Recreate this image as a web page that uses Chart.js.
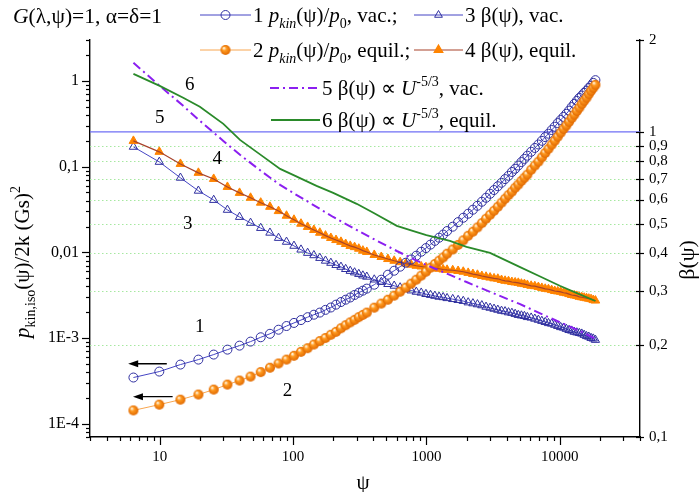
<!DOCTYPE html>
<html>
<head>
<meta charset="utf-8">
<script src="https://cdn.jsdelivr.net/npm/chart.js@4.4.1/dist/chart.umd.min.js"></script>
<style>
  html, body { margin: 0; padding: 0; background: #fff; }
  canvas { display: block; }
</style>
</head>
<body>
<canvas id="chart" width="699" height="492"></canvas>
<script>
// psi grid of the computed curves 1-4
const psi = [6.35, 9.93, 14.3, 19.5, 25.4, 32.2, 39.7, 48.0, 57.2, 67.1, 77.8, 89.3, 101.6, 114.7, 128.6, 143.3, 158.8, 175.1, 192.1, 210.0, 228.7, 248.1, 268.4, 289.4, 311.2, 333.9, 357.3,
  406.5, 458.9, 514.5, 573.3, 635.2, 700.3, 768.6, 840.1, 914.7, 992.5, 1073.5, 1157.7, 1245, 1335.5, 1429.2,
  1575.7, 1729.3, 1890.1, 2058, 2233, 2415, 2605, 2801, 3005, 3216, 3434, 3659, 3891, 4130, 4377, 4631, 4891, 5159, 5435, 5717,
  6104, 6504, 6917, 7343, 7781, 8232, 8696, 9172, 9661, 10163, 10678, 11205, 11745, 12297, 12863, 13441, 14031, 14635, 15251, 15880, 16521, 17176, 17843, 18523]

// 1 p_kin/p0, vac. (left axis)
const pkinVac = [3.46e-4, 4.06e-4, 4.90e-4, 5.60e-4, 6.41e-4, 7.32e-4, 8.15e-4, 9.08e-4, 1.02e-3, 1.12e-3, 1.25e-3, 1.38e-3, 1.50e-3, 1.62e-3, 1.75e-3, 1.87e-3, 1.98e-3, 2.13e-3, 2.27e-3, 2.45e-3, 2.63e-3, 2.80e-3, 2.97e-3, 3.18e-3, 3.38e-3, 3.57e-3, 3.77e-3,
  4.19e-3, 4.79e-3, 5.48e-3, 6.10e-3, 6.80e-3, 7.56e-3, 8.25e-3, 9.13e-3, 1.016e-2, 1.12e-2, 1.23e-2, 1.36e-2, 1.48e-2, 1.61e-2, 1.77e-2,
  1.99e-2, 2.25e-2, 2.53e-2, 2.82e-2, 3.14e-2, 3.49e-2, 3.89e-2, 4.33e-2, 4.82e-2, 5.33e-2, 5.90e-2, 6.48e-2, 7.15e-2, 7.81e-2, 8.65e-2, 9.43e-2, 0.103, 0.113, 0.123, 0.134,
  0.149, 0.165, 0.181, 0.200, 0.221, 0.242, 0.267, 0.292, 0.322, 0.350, 0.380, 0.413, 0.450, 0.495, 0.539, 0.585, 0.632, 0.675, 0.725, 0.770, 0.827, 0.878, 0.948, 1.02]

// 2 p_kin/p0, equil. (left axis)
const pkinEq = [1.43e-4, 1.67e-4, 1.91e-4, 2.19e-4, 2.50e-4, 2.86e-4, 3.19e-4, 3.55e-4, 4.0e-4, 4.5e-4, 5.05e-4, 5.6e-4, 6.2e-4, 6.9e-4, 7.6e-4, 8.4e-4, 9.2e-4, 1.0e-3, 1.09e-3, 1.18e-3, 1.30e-3, 1.41e-3, 1.52e-3, 1.63e-3, 1.75e-3, 1.86e-3, 1.98e-3,
  2.26e-3, 2.52e-3, 2.80e-3, 3.12e-3, 3.47e-3, 3.87e-3, 4.31e-3, 4.79e-3, 5.34e-3, 5.94e-3, 6.61e-3, 7.30e-3, 7.98e-3, 8.70e-3, 9.63e-3,
  1.08e-2, 1.22e-2, 1.38e-2, 1.56e-2, 1.74e-2, 1.95e-2, 2.19e-2, 2.46e-2, 2.74e-2, 3.05e-2, 3.40e-2, 3.79e-2, 4.21e-2, 4.65e-2, 5.10e-2, 5.66e-2, 6.17e-2, 6.80e-2, 7.41e-2, 8.05e-2,
  9.18e-2, 0.103, 0.114, 0.128, 0.144, 0.161, 0.180, 0.200, 0.223, 0.248, 0.275, 0.301, 0.333, 0.368, 0.403, 0.445, 0.487, 0.537, 0.585, 0.636, 0.700, 0.765, 0.830, 0.900]

// 3 beta, vac. (right axis)
const betaVac = [0.893, 0.797, 0.707, 0.641, 0.598, 0.555, 0.526, 0.503, 0.484, 0.467, 0.449, 0.436, 0.423, 0.411, 0.401, 0.394, 0.386, 0.378, 0.372, 0.366, 0.361, 0.355, 0.350, 0.346, 0.342, 0.338, 0.335,
  0.328, 0.322, 0.317, 0.313, 0.309, 0.305, 0.302, 0.299, 0.297, 0.294, 0.292, 0.290, 0.288, 0.287, 0.285,
  0.283, 0.281, 0.279, 0.276, 0.274, 0.272, 0.270, 0.267, 0.265, 0.263, 0.261, 0.259, 0.258, 0.256, 0.255, 0.253, 0.251, 0.250, 0.249, 0.247,
  0.246, 0.244, 0.242, 0.240, 0.238, 0.236, 0.235, 0.233, 0.231, 0.229, 0.228, 0.226, 0.224, 0.223, 0.221, 0.220, 0.219, 0.218, 0.216, 0.214, 0.213, 0.211, 0.210, 0.208]

// 4 beta, equil. (right axis)
const betaEq = [0.934, 0.860, 0.785, 0.734, 0.701, 0.660, 0.631, 0.608, 0.586, 0.568, 0.550, 0.531, 0.515, 0.500, 0.488, 0.477, 0.467, 0.457, 0.449, 0.442, 0.436, 0.429, 0.423, 0.419, 0.414, 0.408, 0.404,
  0.395, 0.389, 0.383, 0.378, 0.374, 0.370, 0.367, 0.364, 0.362, 0.360, 0.358, 0.357, 0.356, 0.354, 0.353,
  0.352, 0.350, 0.348, 0.345, 0.342, 0.340, 0.337, 0.335, 0.333, 0.331, 0.330, 0.327, 0.325, 0.324, 0.322, 0.321, 0.320, 0.318, 0.317, 0.315,
  0.313, 0.312, 0.310, 0.308, 0.306, 0.305, 0.303, 0.301, 0.300, 0.299, 0.297, 0.296, 0.294, 0.292, 0.291, 0.290, 0.288, 0.287, 0.286, 0.285, 0.284, 0.283, 0.281, 0.280]

// 5 and 6: beta ~ U^-5/3 (right axis)
const psiFit = [6.35, 10, 15, 20, 30, 40, 60, 80, 100, 150, 200, 300, 400, 600, 800, 1000, 1500, 2000, 3000, 5000, 7000, 10000, 14000, 18523]
const fitVac = [1.684, 1.415, 1.217, 1.087, 0.934, 0.841, 0.734, 0.670, 0.631, 0.568, 0.526, 0.477, 0.446, 0.407, 0.383, 0.366, 0.340, 0.322, 0.299, 0.273, 0.255, 0.238, 0.223, 0.210]
const fitEq = [1.549, 1.415, 1.293, 1.208, 1.062, 0.941, 0.828, 0.756, 0.723, 0.665, 0.631, 0.581, 0.543, 0.492, 0.473, 0.459, 0.439, 0.420, 0.401, 0.361, 0.337, 0.313, 0.294, 0.279]

// axes
const xTicks = [10, 100, 1000, 10000]
const xTickText = ["10", "100", "1000", "10000"]
const leftTicks = [1e-4, 1e-3, 0.01, 0.1, 1]
const leftTickText = ["1E-4", "1E-3", "0,01", "0,1", "1"]
const rightTicks = [0.1, 0.2, 0.3, 0.4, 0.5, 0.6, 0.7, 0.8, 0.9, 1, 2]
const rightTickText = ["0,1", "0,2", "0,3", "0,4", "0,5", "0,6", "0,7", "0,8", "0,9", "1", "2"]
const gridBeta = [0.2, 0.3, 0.4, 0.5, 0.6, 0.7, 0.8, 0.9]

// curve numbers and arrows, in data coordinates (psi, left axis)
const annoText = ["6", "5", "4", "3", "1", "2"]
const annoPsi = [16.8, 10, 27, 16.2, 20, 91]
const annoVal = [0.9, 0.37, 0.122, 0.0216, 1.36e-3, 2.44e-4]
const arrowFrom = [11.3, 12.5]
const arrowTo = [5.8, 6.3]
const arrowVal = [5.0e-4, 2.07e-4]

const SERIF = '"Liberation Serif", "Times New Roman", serif'
const BLUE = "#2f2f9f"
const BLUE_LINE = "#4545c4"
const ORANGE = "#ff8400"
const ORANGE_LINE = "#f8a650"
const BROWN = "#a8432b"
const PURPLE = "#8b1ff0"
const GREEN = "#2a8a2a"

// shaded orange ball used as point style
function ball(r) {
  const c = document.createElement("canvas")
  c.width = c.height = 2 * r + 2
  const g = c.getContext("2d")
  const m = r + 1
  const grd = g.createRadialGradient(m - r * 0.35, m - r * 0.4, r * 0.1, m, m, r)
  grd.addColorStop(0, "#fff3dc")
  grd.addColorStop(0.35, "#ff9a20")
  grd.addColorStop(1, "#e06800")
  g.fillStyle = grd
  g.beginPath()
  g.arc(m, m, r, 0, Math.PI * 2)
  g.fill()
  return c
}
const ballImg = ball(5)

const pts = (xs, ys) => xs.map((v, i) => ({ x: v, y: ys[i] }))

// text with italic / subscript / superscript parts
function rich(ctx, x, y, parts, size, measureOnly) {
  let w = 0
  for (const [t, st] of parts) {
    const small = st.includes("b") || st.includes("p")
    const fs = small ? Math.round(size * 0.66) : size
    ctx.font = (st.includes("i") ? "italic " : "") + fs + "px " + SERIF
    const dy = st.includes("b") ? size * 0.28 : st.includes("p") ? -size * 0.42 : 0
    if (!measureOnly) ctx.fillText(t, x + w, y + dy)
    w += ctx.measureText(t).width
  }
  return w
}

function seg(ctx, x1, y1, x2, y2) {
  ctx.beginPath()
  ctx.moveTo(x1, y1)
  ctx.lineTo(x2, y2)
  ctx.stroke()
}

const legendRows = [
  { x0: 200, x1: 251, y: 15, kind: 1, parts: [["1 ", ""], ["p", "i"], ["kin", "ib"], ["(ψ)/", ""], ["p", "i"], ["0", "b"], [", vac.;", ""]] },
  { x0: 414, x1: 463, y: 15, kind: 3, parts: [["3 β(ψ), vac.", ""]] },
  { x0: 200, x1: 251, y: 50, kind: 2, parts: [["2 ", ""], ["p", "i"], ["kin", "ib"], ["(ψ)/", ""], ["p", "i"], ["0", "b"], [", equil.;", ""]] },
  { x0: 414, x1: 463, y: 50, kind: 4, parts: [["4 β(ψ), equil.", ""]] },
  { x0: 270, x1: 320, y: 88, kind: 5, parts: [["5 β(ψ) ∝ ", ""], ["U", "i"], ["-5/3", "p"], [", vac.", ""]] },
  { x0: 271, x1: 320, y: 120, kind: 6, parts: [["6 β(ψ) ∝ ", ""], ["U", "i"], ["-5/3", "p"], [", equil.", ""]] },
]

const decor = {
  id: "decor",
  beforeDatasetsDraw(chart) {
    const { ctx, chartArea: a } = chart
    const y2 = chart.scales.y2
    ctx.save()
    ctx.strokeStyle = "#a6e8a0"
    ctx.lineWidth = 1
    ctx.setLineDash([1.5, 2.5])
    gridBeta.forEach(v => {
      const py = Math.round(y2.getPixelForValue(v)) + 0.5
      seg(ctx, a.left, py, a.right, py)
    })
    ctx.setLineDash([])
    ctx.strokeStyle = "#6f6ff5"
    ctx.lineWidth = 1.4
    const p1 = y2.getPixelForValue(1)
    seg(ctx, a.left, p1, a.right, p1)
    ctx.restore()
  },
  afterDraw(chart) {
    const { ctx, chartArea: a } = chart
    const { x, y, y2 } = chart.scales
    ctx.save()
    ctx.strokeStyle = "#000"
    ctx.fillStyle = "#000"
    ctx.lineWidth = 1.2

    // tick marks
    for (let e = 0; e <= 4; e++) {
      for (let k = 1; k <= 9; k++) {
        const v = k * Math.pow(10, e)
        if (v < 3 || v > 40000) continue
        const px = Math.round(x.getPixelForValue(v)) + 0.5
        seg(ctx, px, a.bottom, px, a.bottom + (k === 1 ? 8 : 4))
      }
    }
    for (let e = -5; e <= 0; e++) {
      for (let k = 1; k <= 9; k++) {
        const v = k * Math.pow(10, e)
        if (v < 7e-5 || v > 3.0001) continue
        const py = Math.round(y.getPixelForValue(v)) + 0.5
        seg(ctx, a.left - (k === 1 ? 8 : 4), py, a.left, py)
      }
    }
    rightTicks.forEach(v => {
      const py = Math.round(y2.getPixelForValue(v)) + 0.5
      seg(ctx, a.right - 4, py, a.right + 4, py)
    })

    // arrows
    ctx.lineWidth = 1.4
    arrowFrom.forEach((f, i) => {
      const xa = x.getPixelForValue(f)
      const xb = x.getPixelForValue(arrowTo[i])
      const py = y.getPixelForValue(arrowVal[i])
      seg(ctx, xa, py, xb + 6, py)
      ctx.beginPath()
      ctx.moveTo(xb, py)
      ctx.lineTo(xb + 10, py - 3.5)
      ctx.lineTo(xb + 10, py + 3.5)
      ctx.closePath()
      ctx.fill()
    })

    // curve numbers
    ctx.font = "19px " + SERIF
    ctx.textAlign = "center"
    ctx.textBaseline = "middle"
    annoText.forEach((t, i) => {
      ctx.fillText(t, x.getPixelForValue(annoPsi[i]), y.getPixelForValue(annoVal[i]))
    })

    // axis titles
    ctx.font = "21px " + SERIF
    ctx.fillText("ψ", (a.left + a.right) / 2 - 2, 483)
    ctx.textAlign = "left"
    ctx.textBaseline = "alphabetic"
    const lt = [["p", "i"], ["kin,iso", "b"], ["(ψ)/2k (Gs)", ""], ["2", "p"]]
    ctx.save()
    ctx.translate(29, 262)
    ctx.rotate(-Math.PI / 2)
    const lw = rich(ctx, 0, 0, lt, 21, true)
    rich(ctx, -lw / 2, 0, lt, 21)
    ctx.restore()
    ctx.save()
    ctx.translate(694, 260)
    ctx.rotate(-Math.PI / 2)
    const rw = rich(ctx, 0, 0, [["β(ψ)", ""]], 22, true)
    rich(ctx, -rw / 2, 0, [["β(ψ)", ""]], 22)
    ctx.restore()

    // header
    rich(ctx, 13, 23, [["G", "i"], ["(λ,ψ)=1, α=δ=1", ""]], 21.5)

    // legend
    legendRows.forEach(r => {
      const mid = (r.x0 + r.x1) / 2
      ctx.save()
      ctx.setLineDash([])
      if (r.kind === 1 || r.kind === 3) { ctx.strokeStyle = BLUE_LINE; ctx.lineWidth = 1 }
      if (r.kind === 2) { ctx.strokeStyle = ORANGE_LINE; ctx.lineWidth = 1 }
      if (r.kind === 4) { ctx.strokeStyle = BROWN; ctx.lineWidth = 1.2 }
      if (r.kind === 5) { ctx.strokeStyle = PURPLE; ctx.lineWidth = 2; ctx.setLineDash([9, 4, 2, 4]) }
      if (r.kind === 6) { ctx.strokeStyle = GREEN; ctx.lineWidth = 2 }
      seg(ctx, r.x0, r.y, r.x1, r.y)
      ctx.setLineDash([])
      if (r.kind === 1 || r.kind === 3) {
        ctx.strokeStyle = BLUE
        ctx.fillStyle = "rgba(0,0,0,0)"
        ctx.lineWidth = 1
        Chart.helpers.drawPoint(ctx, { pointStyle: r.kind === 1 ? "circle" : "triangle", radius: 4.5, rotation: 0, borderWidth: 1 }, mid, r.y)
      }
      if (r.kind === 2) ctx.drawImage(ballImg, mid - ballImg.width / 2, r.y - ballImg.height / 2)
      if (r.kind === 4) {
        ctx.strokeStyle = ORANGE
        ctx.fillStyle = ORANGE
        Chart.helpers.drawPoint(ctx, { pointStyle: "triangle", radius: 5, rotation: 0, borderWidth: 1 }, mid, r.y)
      }
      ctx.restore()
      ctx.fillStyle = "#000"
      rich(ctx, r.x1 + 2, r.y + 7, r.parts, 21)
    })
    ctx.restore()
  },
}

const tickFont = { family: SERIF, size: 15 }

new Chart(document.getElementById("chart").getContext("2d"), {
  type: "line",
  data: {
    datasets: [
      { label: "6", data: pts(psiFit, fitEq), yAxisID: "y2", borderColor: GREEN, borderWidth: 1.8, pointRadius: 0, order: 1 },
      { label: "5", data: pts(psiFit, fitVac), yAxisID: "y2", borderColor: PURPLE, borderWidth: 2, borderDash: [9, 4, 2, 4], pointRadius: 0, order: 2 },
      { label: "2", data: pts(psi, pkinEq), yAxisID: "y", borderColor: ORANGE_LINE, borderWidth: 1, pointStyle: ballImg, pointRadius: 5, order: 3 },
      { label: "1", data: pts(psi, pkinVac), yAxisID: "y", borderColor: BLUE_LINE, borderWidth: 1, pointStyle: "circle", pointRadius: 4.5, pointBorderColor: BLUE, pointBackgroundColor: "rgba(0,0,0,0)", pointBorderWidth: 1, order: 4 },
      { label: "4 line", data: pts(psi, betaEq), yAxisID: "y2", borderColor: BROWN, borderWidth: 1.2, pointRadius: 0, order: 5 },
      { label: "4", data: pts(psi, betaEq), yAxisID: "y2", showLine: false, pointStyle: "triangle", pointRadius: 5, pointBorderColor: ORANGE, pointBackgroundColor: ORANGE, pointBorderWidth: 1, order: 6 },
      { label: "3", data: pts(psi, betaVac), yAxisID: "y2", borderColor: BLUE_LINE, borderWidth: 1, pointStyle: "triangle", pointRadius: 4.8, pointBorderColor: BLUE, pointBackgroundColor: "rgba(0,0,0,0)", pointBorderWidth: 1, order: 7 },
    ],
  },
  options: {
    responsive: false,
    animation: false,
    devicePixelRatio: 1,
    layout: { padding: { top: 40, left: 0, right: 0, bottom: 0 } },
    elements: { line: { tension: 0, fill: false } },
    plugins: { legend: { display: false }, tooltip: { enabled: false } },
    scales: {
      x: {
        type: "logarithmic",
        min: 3,
        max: 40000,
        afterBuildTicks: s => { s.ticks = xTicks.map(v => ({ value: v })) },
        afterFit: s => { s.height = 55 },
        ticks: { callback: v => xTickText[xTicks.indexOf(v)], font: tickFont, color: "#000", padding: 11, autoSkip: false, maxRotation: 0 },
        grid: { drawOnChartArea: false, drawTicks: false },
        border: { color: "#000", width: 1.4 },
      },
      y: {
        type: "logarithmic",
        position: "left",
        min: 7e-5,
        max: 3,
        afterBuildTicks: s => { s.ticks = leftTicks.map(v => ({ value: v })) },
        afterFit: s => { s.width = 90 },
        ticks: { callback: v => leftTickText[leftTicks.indexOf(v)], font: { family: SERIF, size: 16 }, color: "#000", padding: 11, autoSkip: false },
        grid: { drawOnChartArea: false, drawTicks: false },
        border: { color: "#000", width: 1.4 },
      },
      y2: {
        type: "logarithmic",
        position: "right",
        min: 0.1,
        max: 2,
        afterBuildTicks: s => { s.ticks = rightTicks.map(v => ({ value: v })) },
        afterFit: s => { s.width = 59 },
        ticks: { callback: v => rightTickText[rightTicks.indexOf(v)], font: tickFont, color: "#000", padding: 9, autoSkip: false },
        grid: { drawOnChartArea: false, drawTicks: false },
        border: { color: "#000", width: 1.4 },
      },
    },
  },
  plugins: [decor],
})
</script>
</body>
</html>
